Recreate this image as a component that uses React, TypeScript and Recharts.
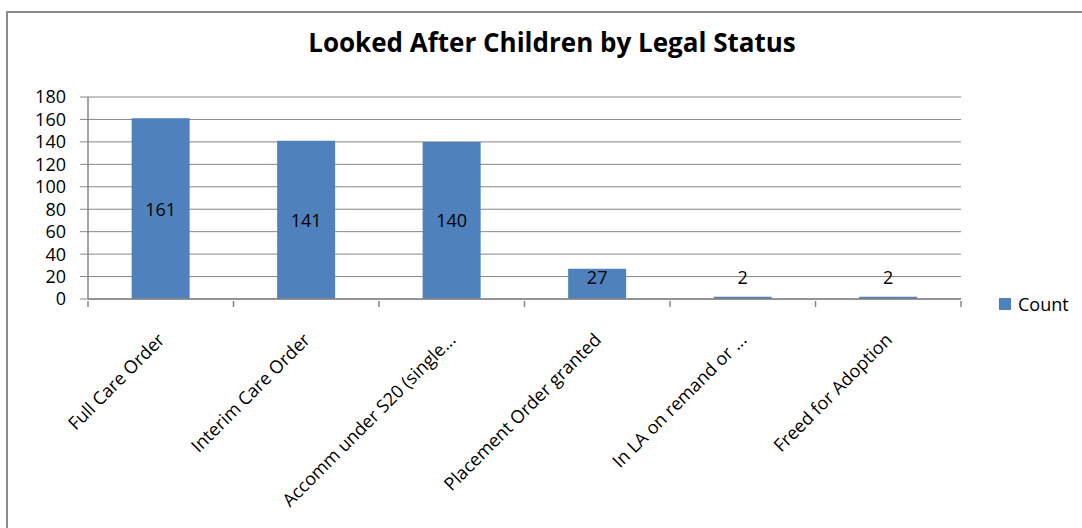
import { BarChart, Bar, XAxis, YAxis, CartesianGrid, LabelList } from "recharts";

const categories = [
  "Full Care Order",
  "Interim Care Order",
  "Accomm under S20 (single...",
  "Placement Order granted",
  "In LA on remand or ...",
  "Freed for Adoption",
];
const counts = [161, 141, 140, 27, 2, 2];
const yTicks = [0, 20, 40, 60, 80, 100, 120, 140, 160, 180];

const data = categories.map((name, i) => ({ name, Count: counts[i] }));

const FONT = "'Open Sans', 'Noto Sans', sans-serif";
const AXIS = "#868686";
const BLUE = "#4F81BD";

function CategoryTick(props: any) {
  const { x, y, payload, index } = props;
  const half = payload.offset ?? 0;
  const tx = x + 5;
  const ty = y + 34;
  return (
    <g>
      <line x1={x - half} y1={y - 6} x2={x - half} y2={y} stroke={AXIS} strokeWidth={1.5} />
      {index === categories.length - 1 && (
        <line x1={x + half} y1={y - 6} x2={x + half} y2={y} stroke={AXIS} strokeWidth={1.5} />
      )}
      <text
        x={tx}
        y={ty}
        transform={`rotate(-45, ${tx}, ${ty})`}
        textAnchor="end"
        fontSize={18}
        fontFamily={FONT}
        fill="#000"
      >
        {payload.value}
      </text>
    </g>
  );
}

function CenterLabel(props: any) {
  const { x, y, width, height, value } = props;
  const bottom = y + height;
  const cy = Math.min(y + height / 2, bottom - 22);
  return (
    <text
      x={x + width / 2}
      y={cy}
      textAnchor="middle"
      dominantBaseline="central"
      fontSize={18}
      fontFamily={FONT}
      fill="#000"
    >
      {value}
    </text>
  );
}

export default function App() {
  return (
    <div style={{ position: "absolute", left: 0, top: 0, width: 1082, height: 528, overflow: "hidden", background: "#fff" }}>
      <div
        style={{
          position: "absolute",
          left: 6,
          top: 11,
          width: 1200,
          height: 700,
          borderLeft: "2px solid #8c8c8c",
          borderTop: "2px solid #8c8c8c",
        }}
      />
      <div
        style={{
          position: "absolute",
          left: 0,
          top: 24,
          width: 1104,
          textAlign: "center",
          fontFamily: FONT,
          fontWeight: 700,
          fontSize: 26,
          lineHeight: "normal",
          color: "#000",
        }}
      >
        Looked After Children by Legal Status
      </div>
      <div style={{ position: "absolute", left: 0, top: 0 }}>
        <BarChart width={1082} height={528} data={data} margin={{ top: 97, right: 121, left: 0, bottom: 0 }} barCategoryGap="30%">
          <CartesianGrid vertical={false} stroke={AXIS} strokeWidth={1} />
          <XAxis
            dataKey="name"
            interval={0}
            height={229}
            axisLine={{ stroke: AXIS, strokeWidth: 1.5 }}
            tickLine={false}
            tick={<CategoryTick />}
          />
          <YAxis
            width={88}
            domain={[0, 180]}
            ticks={yTicks}
            interval={0}
            tickSize={8}
            tickMargin={14}
            axisLine={{ stroke: AXIS, strokeWidth: 1.5 }}
            tickLine={{ stroke: AXIS }}
            tick={{ fontSize: 18, fontFamily: FONT, fill: "#000" }}
          />
          <Bar dataKey="Count" fill={BLUE} isAnimationActive={false}>
            <LabelList dataKey="Count" content={<CenterLabel />} />
          </Bar>
        </BarChart>
      </div>
      <div
        style={{
          position: "absolute",
          left: 999,
          top: 292,
          display: "flex",
          alignItems: "center",
          fontFamily: FONT,
          fontSize: 18,
          color: "#000",
        }}
      >
        <span style={{ width: 12, height: 12, background: BLUE, display: "inline-block", marginRight: 7 }} />
        <span>Count</span>
      </div>
    </div>
  );
}
